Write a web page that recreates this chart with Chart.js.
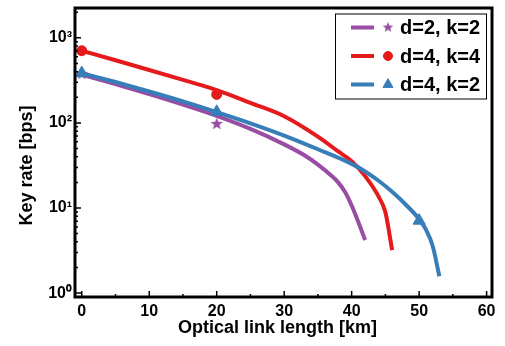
<!DOCTYPE html>
<html>
<head>
<meta charset="utf-8">
<script src="https://cdn.jsdelivr.net/npm/chart.js@4.4.0/dist/chart.umd.min.js"></script>
<style>
body { margin: 0; background: #fff; }
#canvas { display: block; }
</style>
</head>
<body>
<canvas id="canvas" width="505" height="346"></canvas>
<script>
// Valores (km, bps)
var seriesLabels = ['d=2, k=2', 'd=4, k=4', 'd=4, k=2'];
var seriesColors = ['#984ea3', '#e41a1c', '#377eb8'];

var kmD2K2 = [0, 5, 10, 15, 20, 25, 30, 33, 35, 37, 38, 39, 40, 41, 42];
var rateD2K2 = [370, 285, 218, 164, 121, 85, 56, 41.7, 32.4, 24, 20, 15.5, 10.7, 6.8, 4.2];

var kmD4K4 = [0, 5, 10, 15, 20, 25, 30, 35, 38, 40, 42, 44, 45, 46];
var rateD4K4 = [705, 545, 419, 320, 243, 172, 120, 69, 46.2, 35.5, 23.7, 13.6, 8.9, 3.2];

var kmD4K2 = [0, 5, 10, 15, 20, 25, 30, 35, 40, 42, 44, 46, 48, 50, 51, 52, 53];
var rateD4K2 = [383, 302, 234, 179, 134, 99, 71, 49, 33, 26.9, 20.9, 15.5, 11, 7.4, 5.6, 3.6, 1.58];

// marcadores sueltos
var starKm = [0, 20];
var starRate = [375, 97];
var dotKm = [0, 20];
var dotRate = [705, 216];
var triKm = [0, 20, 50];
var triRate = [385, 135, 7.1];

var xTicks = [0, 10, 20, 30, 40, 50, 60];
var yTicks = [1, 10, 100, 1000];
var supers = ['\u2070', '\u00b9', '\u00b2', '\u00b3'];

var fuente = '"Liberation Sans", Arial, sans-serif';

function puntos(xs, ys) {
	var out = [];
	for (var i = 0; i < xs.length; i++) out.push({x: xs[i], y: ys[i]});
	return out;
}

// estrella rellena de 5 puntas como imagen para pointStyle
function hacerEstrella(color, r) {
	var c = document.createElement('canvas');
	var s = Math.ceil(r * 2) + 2;
	c.width = s; c.height = s;
	var g = c.getContext('2d');
	g.fillStyle = color;
	g.beginPath();
	for (var i = 0; i < 10; i++) {
		var rr = i % 2 === 0 ? r : r * 0.42;
		var a = -Math.PI / 2 + i * Math.PI / 5;
		g.lineTo(s / 2 + rr * Math.cos(a), s / 2 + rr * Math.sin(a));
	}
	g.closePath();
	g.fill();
	return c;
}

var estrella = hacerEstrella(seriesColors[0], 6.6);
var estrellaLeyenda = hacerEstrella(seriesColors[0], 5.6);

function linea(data, color, orden) {
	return {
		type: 'line', data: data, borderColor: color, borderWidth: 4,
		pointRadius: 0, fill: false, cubicInterpolationMode: 'monotone', order: orden
	};
}
function marcas(data, color, estilo, radio, orden) {
	return {
		type: 'scatter', data: data, showLine: false, pointStyle: estilo,
		pointRadius: radio, backgroundColor: color, borderColor: color, borderWidth: 1, order: orden
	};
}

// ejes con ticks hacia adentro, marco, títulos y leyenda
var extras = {
	id: 'extras',
	afterDraw: function(chart) {
		var ctx = chart.ctx;
		var a = chart.chartArea;
		var xs = chart.scales.x, ys = chart.scales.y;
		ctx.save();
		ctx.strokeStyle = '#000';
		ctx.lineWidth = 1.5;
		ctx.beginPath();
		for (var v = 0; v <= 60; v += 5) {
			var px = xs.getPixelForValue(v);
			var len = v % 10 === 0 ? 6 : 3;
			ctx.moveTo(px, a.bottom); ctx.lineTo(px, a.bottom - len);
		}
		for (var d = 1; d <= 1000; d *= 10) {
			for (var m = 1; m <= 9; m++) {
				var val = d * m;
				if (val > ys.max) break;
				var py = ys.getPixelForValue(val);
				var l = m === 1 ? 6 : 3;
				ctx.moveTo(a.left, py); ctx.lineTo(a.left + l, py);
			}
		}
		ctx.stroke();
		ctx.lineWidth = 3;
		ctx.strokeRect(a.left, a.top, a.right - a.left, a.bottom - a.top);

		// títulos de ejes
		ctx.fillStyle = '#000';
		ctx.font = 'bold 18px ' + fuente;
		ctx.textAlign = 'center';
		ctx.textBaseline = 'middle';
		ctx.fillText('Optical link length [km]', (a.left + a.right) / 2 - 6, a.bottom + 31);
		ctx.translate(27, (a.top + a.bottom) / 2 + 13);
		ctx.rotate(-Math.PI / 2);
		ctx.fillText('Key rate [bps]', 0, 0);
		ctx.restore();

		// leyenda
		ctx.save();
		var bx = a.right - 157, by = a.top + 5.5, bw = 151, bh = 85;
		ctx.fillStyle = '#fff';
		ctx.fillRect(bx, by, bw, bh);
		ctx.strokeStyle = '#000';
		ctx.lineWidth = 1;
		ctx.strokeRect(bx + 0.5, by + 0.5, bw, bh);
		var estilos = [estrellaLeyenda, 'circle', 'triangle'];
		var radios = [5.6, 4.5, 5.8];
		ctx.font = 'bold 20px ' + fuente;
		ctx.textBaseline = 'middle';
		ctx.textAlign = 'left';
		for (var i = 0; i < seriesLabels.length; i++) {
			var cy = by + 14 + i * 28.5;
			ctx.strokeStyle = seriesColors[i];
			ctx.fillStyle = seriesColors[i];
			ctx.lineWidth = 4;
			ctx.beginPath();
			ctx.moveTo(bx + 16, cy); ctx.lineTo(bx + 39, cy);
			ctx.stroke();
			ctx.lineWidth = 1;
			Chart.helpers.drawPoint(ctx, {pointStyle: estilos[i], radius: radios[i], rotation: 0, borderWidth: 1}, bx + 53, cy);
			ctx.fillStyle = '#000';
			ctx.fillText(seriesLabels[i], bx + 65, cy + 1);
		}
		ctx.restore();
	}
};

var ctx = document.getElementById('canvas').getContext('2d');
var grafica = new Chart(ctx, {
	data: {
		datasets: [
			linea(puntos(kmD2K2, rateD2K2), seriesColors[0], 2),
			linea(puntos(kmD4K4, rateD4K4), seriesColors[1], 1),
			linea(puntos(kmD4K2, rateD4K2), seriesColors[2], 0),
			marcas(puntos(starKm, starRate), seriesColors[0], estrella, 6.6, -1),
			marcas(puntos(dotKm, dotRate), seriesColors[1], 'circle', 5, -2),
			marcas(puntos(triKm, triRate), seriesColors[2], 'triangle', 7, -3)
		]
	},
	options: {
		responsive: false,
		animation: false,
		devicePixelRatio: 1,
		layout: { padding: { top: 6, right: 13, left: 0, bottom: 0 } },
		plugins: { legend: { display: false }, tooltip: { enabled: false } },
		scales: {
			x: {
				type: 'linear', min: -1, max: 60.8,
				grid: { display: false, drawTicks: false, tickLength: 0 }, border: { display: false },
				afterBuildTicks: function(s) { s.ticks = xTicks.map(function(v) { return {value: v}; }); },
				afterFit: function(s) { s.height = 49; s.paddingLeft = 0; s.paddingRight = 0; },
				ticks: { color: '#000', padding: 5, maxRotation: 0, autoSkip: false, font: { family: fuente, size: 16, weight: 'bold' } }
			},
			y: {
				type: 'logarithmic', min: 0.9, max: 2240,
				grid: { display: false, drawTicks: false, tickLength: 0 }, border: { display: false },
				afterBuildTicks: function(s) { s.ticks = yTicks.map(function(v) { return {value: v}; }); },
				afterFit: function(s) { s.width = 75; s.paddingTop = 0; s.paddingBottom = 0; },
				ticks: {
					color: '#000', padding: 3, autoSkip: false, font: { family: fuente, size: 16, weight: 'bold' },
					callback: function(v) { return '10' + supers[Math.round(Math.log10(v))]; }
				}
			}
		}
	},
	plugins: [extras]
});
</script>
</body>
</html>
